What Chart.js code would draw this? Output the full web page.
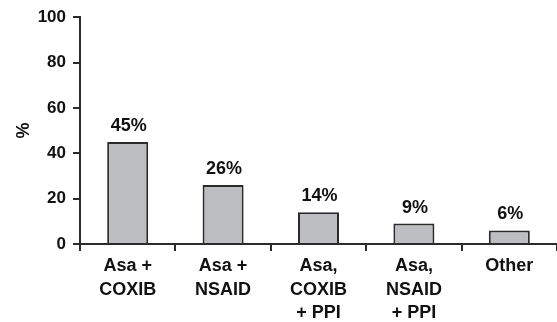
<!DOCTYPE html>
<html>
<head>
<meta charset="utf-8">
<script src="https://cdn.jsdelivr.net/npm/chart.js@4/dist/chart.umd.min.js"></script>
<style>
  html, body { margin: 0; padding: 0; background: #fff; }
  #wrap { width: 557px; height: 322px; position: relative; }
</style>
</head>
<body>
<div id="wrap"><canvas id="c"></canvas></div>
<script>
// Share of patients by antithrombotic / gastroprotective regimen
const categories = [
  ["Asa +", "COXIB"],
  ["Asa +", "NSAID"],
  ["Asa,", "COXIB", "+ PPI"],
  ["Asa,", "NSAID", "+ PPI"],
  ["Other"]
];
const percentages = [45, 26, 14, 9, 6];
const yTicks = [0, 20, 40, 60, 80, 100];

const AXIS = '#2b2b2b';
const FONT = "'Liberation Sans', Arial, Helvetica, sans-serif";

// Prints each bar's percentage just above it
const valueLabels = {
  id: 'valueLabels',
  afterDatasetsDraw(chart) {
    const ctx = chart.ctx;
    const meta = chart.getDatasetMeta(0);
    ctx.save();
    ctx.font = 'bold 18px ' + FONT;
    ctx.fillStyle = '#111';
    ctx.textAlign = 'center';
    ctx.textBaseline = 'alphabetic';
    meta.data.forEach((bar, i) => {
      ctx.fillText(percentages[i] + '%', bar.x + 1, bar.y - 11);
    });
    ctx.restore();
  }
};

new Chart(document.getElementById('c'), {
  type: 'bar',
  data: {
    labels: categories,
    datasets: [{
      data: percentages,
      backgroundColor: '#bdbec2',
      borderColor: '#2b2b2b',
      borderWidth: 2,
      barPercentage: 0.43,
      categoryPercentage: 1.0
    }]
  },
  options: {
    responsive: true,
    maintainAspectRatio: false,
    animation: false,
    layout: { padding: { top: 16, left: 0, right: 0, bottom: 0 } },
    plugins: {
      legend: { display: false },
      tooltip: { enabled: false }
    },
    scales: {
      x: {
        offset: true,
        border: { color: AXIS, width: 2 },
        grid: {
          offset: true,
          drawOnChartArea: false,
          drawTicks: true,
          tickLength: 7,
          color: AXIS,
          lineWidth: 2
        },
        ticks: {
          color: '#111',
          padding: 3,
          maxRotation: 0,
          autoSkip: false,
          font: { family: FONT, size: 18, weight: 'bold', lineHeight: 1.32 }
        },
        afterFit(scale) { scale.height = 78; }
      },
      y: {
        min: 0,
        max: 100,
        afterBuildTicks(scale) { scale.ticks = yTicks.map(v => ({ value: v })); },
        border: { color: AXIS, width: 2 },
        grid: {
          drawOnChartArea: false,
          drawTicks: true,
          tickLength: 7,
          color: AXIS,
          lineWidth: 2
        },
        ticks: {
          color: '#111',
          padding: 7,
          font: { family: FONT, size: 17, weight: 'bold' }
        },
        title: {
          display: true,
          text: '%',
          color: '#111',
          padding: { top: 13, bottom: 0 },
          font: { family: FONT, size: 18, weight: 'bold' }
        },
        afterFit(scale) { scale.width = 80; }
      }
    }
  },
  plugins: [valueLabels]
});
</script>
</body>
</html>
